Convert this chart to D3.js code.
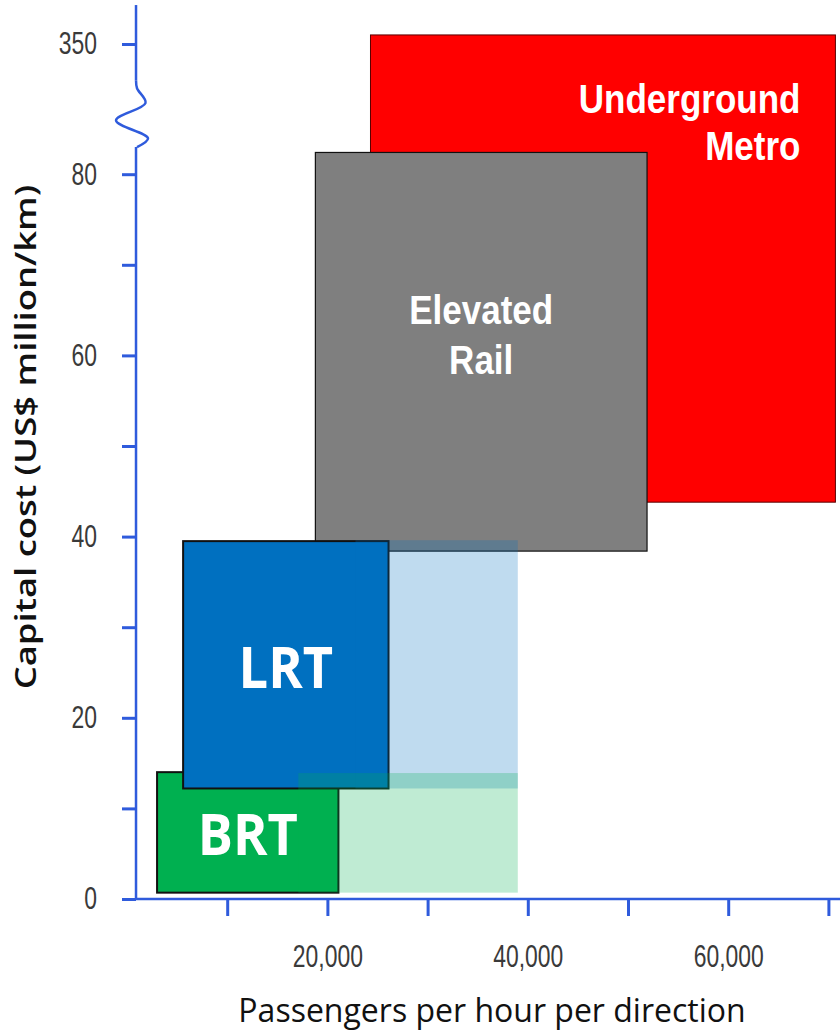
<!DOCTYPE html>
<html>
<head>
<meta charset="utf-8">
<script src="https://cdn.jsdelivr.net/npm/d3@7"></script>
<style>
  body { margin: 0; background: #fff; }
  svg { display: block; }
</style>
</head>
<body>
<div id="chart"></div>
<script>
// main boxes
const modes = ["Underground Metro", "Elevated Rail", "BRT", "LRT"];
const paxMin = [24300, 18800, 3000, 5600];
const paxMax = [70700, 51900, 21100, 26100];
const costMin = [43.8, 38.4, 0.7, 12.2];
const costMax = [351, 82.4, 14.0, 39.5];
const modeColors = ["#ff0000", "#7f7f7f", "#00b050", "#0070c0"];

// pale "extended range" boxes for LRT and BRT
const extModes = ["LRT", "BRT"];
const extPaxMin = [22800, 17100];
const extPaxMax = [39000, 39000];
const extCostMin = [12.2, 0.7];
const extCostMax = [39.6, 13.9];
const extColors = ["#0070c0", "#00b050"];

const xTicks = [10000, 20000, 30000, 40000, 50000, 60000, 70000];
const xLabels = [20000, 40000, 60000];
const yTicks = [0, 10, 20, 30, 40, 50, 60, 70, 80, 350];
const yLabels = [0, 20, 40, 60, 80, 350];

const W = 840, H = 1033;
const pxPerUnit = 9.06;
const axisColor = "#2f5bdc";
const squeeze = 0.74;   // the source picture is stretched vertically

const svg = d3.select("#chart")
  .append("svg")
    .attr("width", W)
    .attr("height", H);

const x = d3.scaleLinear()
  .domain([0, 10000])
  .range([127, 227.2]);

// broken y scale: 0..86 linear, gap, then 346..356
const y = d3.scaleLinear()
  .domain([0, 86, 346, 356])
  .range([899, 899 - 86 * pxPerUnit, 44 + 4 * pxPerUnit, 44 - 6 * pxPerUnit]);

const xStart = 900, xEnd = 71300;   // axis line extent
const yTop = 354.3;
const breakLow = 83, breakHigh = 346;

// boxes
const boxes = modes.map((m, i) => ({
  name: m, x0: paxMin[i], x1: paxMax[i], y0: costMin[i], y1: costMax[i], color: modeColors[i]
}));
const strokeW = { "Underground Metro": 1, "Elevated Rail": 1.2, "BRT": 2, "LRT": 2 };
const strokeC = { "Underground Metro": "#5a0000", "Elevated Rail": "#111", "BRT": "#111", "LRT": "#111" };

svg.append("g")
  .selectAll("rect")
  .data(boxes)
  .join("rect")
    .attr("x", d => x(d.x0))
    .attr("y", d => y(d.y1))
    .attr("width", d => x(d.x1) - x(d.x0))
    .attr("height", d => y(d.y0) - y(d.y1))
    .attr("fill", d => d.color)
    .attr("stroke", d => strokeC[d.name])
    .attr("stroke-width", d => strokeW[d.name]);

const ext = extModes.map((m, i) => ({
  name: m, x0: extPaxMin[i], x1: extPaxMax[i], y0: extCostMin[i], y1: extCostMax[i], color: extColors[i]
}));

svg.append("g")
  .selectAll("rect")
  .data(ext)
  .join("rect")
    .attr("x", d => x(d.x0))
    .attr("y", d => y(d.y1))
    .attr("width", d => x(d.x1) - x(d.x0))
    .attr("height", d => y(d.y0) - y(d.y1))
    .attr("fill", d => d.color)
    .attr("opacity", 0.25);

// box labels
const metro = boxes[0], elev = boxes[1], brt = boxes[2], lrt = boxes[3];
const helv = "'Liberation Sans', Arial, Helvetica, sans-serif";

svg.append("text")
  .attr("transform", "translate(" + (x(metro.x1) - 35) + ",113) scale(1,1.16)")
  .attr("text-anchor", "end")
  .attr("font-family", helv)
  .attr("font-weight", "bold")
  .attr("font-size", 35)
  .attr("fill", "#fff")
  .selectAll("tspan")
  .data(["Underground", "Metro"])
  .join("tspan")
    .attr("x", 0)
    .attr("dy", (d, i) => i ? 47 / 1.16 : 0)
    .text(d => d);

const elevCx = (x(elev.x0) + x(elev.x1)) / 2;
const elevCy = (y(elev.y0) + y(elev.y1)) / 2;
svg.append("text")
  .attr("transform", "translate(" + elevCx + "," + (elevCy - 28) + ") scale(1,1.14)")
  .attr("text-anchor", "middle")
  .attr("font-family", helv)
  .attr("font-weight", "bold")
  .attr("font-size", 35)
  .attr("fill", "#fff")
  .selectAll("tspan")
  .data(["Elevated", "Rail"])
  .join("tspan")
    .attr("x", 0)
    .attr("dy", (d, i) => i ? 50 / 1.14 : 0)
    .text(d => d);

[lrt, brt].forEach(b => {
  svg.append("text")
    .attr("transform", "translate(" + ((x(b.x0) + x(b.x1)) / 2) + "," +
      ((y(b.y0) + y(b.y1)) / 2 + 23) + ") scale(0.97,1.06)")
    .attr("text-anchor", "middle")
    .attr("font-family", "'Open Sans', 'Noto Sans', sans-serif")
    .attr("font-weight", "bold")
    .attr("font-size", 54)
    .attr("fill", "#fff")
    .text(b.name);
});

// x axis
const tickFont = "'Liberation Sans', Arial, sans-serif";
const gx = svg.append("g")
  .attr("transform", "translate(0," + y(0) + ")")
  .call(d3.axisBottom(x)
    .tickValues(xTicks)
    .tickSize(17)
    .tickPadding(29)
    .tickFormat(d => xLabels.includes(d) ? d3.format(",")(d) : ""));
gx.select(".domain").remove();
gx.selectAll(".tick line").attr("stroke", axisColor).attr("stroke-width", 3);
gx.selectAll(".tick text")
  .attr("transform", "scale(" + squeeze + ",1)")
  .attr("font-family", tickFont)
  .attr("font-size", 31)
  .attr("fill", "#3a3a3a");

svg.append("line")
  .attr("x1", x(xStart)).attr("x2", x(xEnd))
  .attr("y1", y(0)).attr("y2", y(0))
  .attr("stroke", axisColor)
  .attr("stroke-width", 2.5);

// y axis
const gy = svg.append("g")
  .attr("transform", "translate(" + x(xStart) + ",0)")
  .call(d3.axisLeft(y)
    .tickValues(yTicks)
    .tickSize(14)
    .tickPadding(25)
    .tickFormat(d => yLabels.includes(d) ? d : ""));
gy.select(".domain").remove();
gy.selectAll(".tick line").attr("stroke", axisColor).attr("stroke-width", 3);
gy.selectAll(".tick text")
  .attr("transform", "scale(" + squeeze + ",1)")
  .attr("x", -39 / squeeze)
  .attr("font-family", tickFont)
  .attr("font-size", 31)
  .attr("fill", "#3a3a3a");

// axis line with the break squiggle
const sq = [[0, 0], [0.12, 1], [0.34, 9.5], [0.6, -20], [0.87, 12], [1, 1]];
const yA = y(breakHigh), yB = y(breakLow);
const x0px = x(xStart);

svg.append("path")
  .attr("d", d3.line()
    .x(p => x0px + p[0])
    .y(p => p[1])
    .curve(d3.curveCatmullRom)(sq.map(p => [p[1], yA + p[0] * (yB - yA)])))
  .attr("fill", "none")
  .attr("stroke", axisColor)
  .attr("stroke-width", 2.5);

svg.append("line")
  .attr("x1", x0px).attr("x2", x0px)
  .attr("y1", y(yTop)).attr("y2", yA)
  .attr("stroke", axisColor).attr("stroke-width", 2.5);
svg.append("line")
  .attr("x1", x0px).attr("x2", x0px)
  .attr("y1", yB).attr("y2", y(0))
  .attr("stroke", axisColor).attr("stroke-width", 2.5);

// axis titles
svg.append("text")
  .attr("transform", "translate(36,437) rotate(-90) scale(1.3,1)")
  .attr("text-anchor", "middle")
  .attr("font-family", "'Open Sans', 'Noto Sans', sans-serif")
  .attr("font-weight", 600)
  .attr("font-size", 28)
  .attr("fill", "#111")
  .text("Capital cost (US$ million/km)");

svg.append("text")
  .attr("x", 492)
  .attr("y", 1022)
  .attr("text-anchor", "middle")
  .attr("font-family", "'Open Sans', 'Noto Sans', sans-serif")
  .attr("font-weight", 500)
  .attr("font-size", 32)
  .attr("fill", "#111")
  .text("Passengers per hour per direction");
</script>
</body>
</html>
